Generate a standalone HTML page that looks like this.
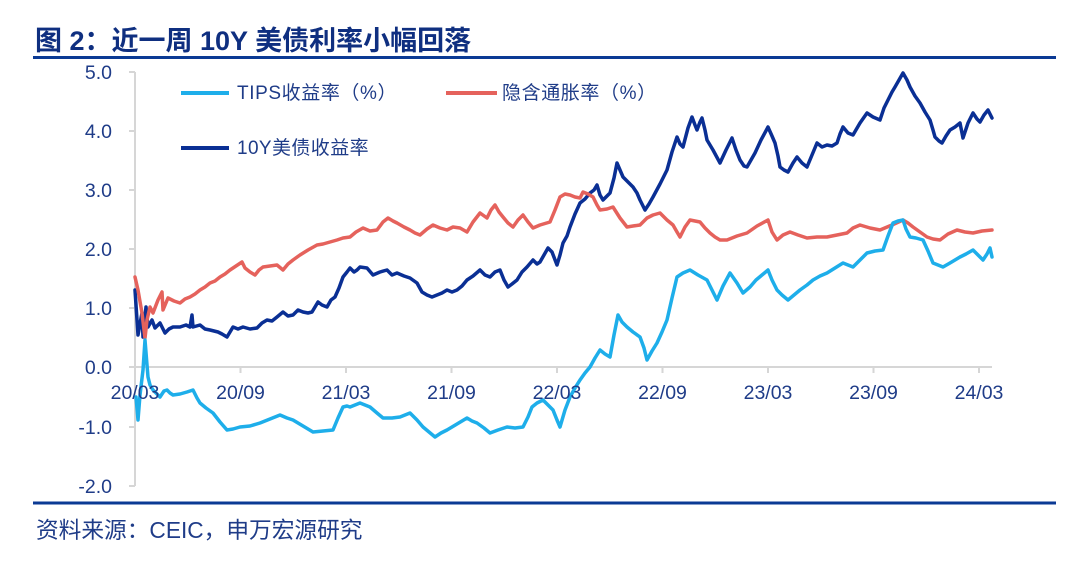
<!DOCTYPE html>
<html>
<head>
<meta charset="utf-8">
<style>
  html,body{margin:0;padding:0;background:#ffffff;}
  body{width:1080px;height:581px;overflow:hidden;}
  svg{display:block;}
  text{font-family:"Liberation Sans","Noto Sans CJK SC",sans-serif;}
</style>
</head>
<body>
<svg width="1080" height="581" viewBox="0 0 1080 581" xmlns="http://www.w3.org/2000/svg">
  <rect width="1080" height="581" fill="#ffffff"/>
  <!-- Title -->
  <text x="35" y="50" font-size="27" font-weight="bold" fill="#0f2f80">图 2：近一周 10Y 美债利率小幅回落</text>
  <line x1="33" y1="57.5" x2="1056" y2="57.5" stroke="#0b3a94" stroke-width="3"/>

  <!-- Y axis -->
  <line x1="135" y1="72" x2="135" y2="486" stroke="#d6d6d6" stroke-width="2"/>
  <g stroke="#d6d6d6" stroke-width="2">
    <line x1="129" y1="72" x2="135" y2="72"/>
    <line x1="129" y1="131" x2="135" y2="131"/>
    <line x1="129" y1="190" x2="135" y2="190"/>
    <line x1="129" y1="249" x2="135" y2="249"/>
    <line x1="129" y1="308" x2="135" y2="308"/>
    <line x1="129" y1="367" x2="135" y2="367"/>
    <line x1="129" y1="427" x2="135" y2="427"/>
    <line x1="129" y1="486" x2="135" y2="486"/>
  </g>
  <g font-size="19.5" fill="#1f3c88" text-anchor="end">
    <text x="112" y="79">5.0</text>
    <text x="112" y="138">4.0</text>
    <text x="112" y="197">3.0</text>
    <text x="112" y="256">2.0</text>
    <text x="112" y="315">1.0</text>
    <text x="112" y="374">0.0</text>
    <text x="112" y="434">-1.0</text>
    <text x="112" y="493">-2.0</text>
  </g>

  <!-- X axis -->
  <line x1="135" y1="367" x2="992" y2="367" stroke="#d6d6d6" stroke-width="2"/>
  <g stroke="#d6d6d6" stroke-width="2">
    <line x1="135" y1="367" x2="135" y2="373"/>
    <line x1="240.5" y1="367" x2="240.5" y2="373"/>
    <line x1="346" y1="367" x2="346" y2="373"/>
    <line x1="451.5" y1="367" x2="451.5" y2="373"/>
    <line x1="557" y1="367" x2="557" y2="373"/>
    <line x1="662.5" y1="367" x2="662.5" y2="373"/>
    <line x1="768" y1="367" x2="768" y2="373"/>
    <line x1="873.5" y1="367" x2="873.5" y2="373"/>
    <line x1="979" y1="367" x2="979" y2="373"/>
  </g>

  <!-- Series -->
  <polyline fill="none" stroke="#0a2f94" stroke-width="3.5" stroke-linejoin="round" stroke-linecap="round"
    points="135,290 138,335 142,313 143,337 146,307 148,327 152,320 155,328 160,323 165,333 169,329 173,327 180,327 186,325 190,327 192,315 193,327 200,325 205,329 210,330 218,332 222,334 227,337 233,327 238,329 243,327 250,329 257,328 262,323 267,320 272,321 277,317 283,312 288,316 293,315 298,310 303,312 308,313 312,312 318,302 322,305 327,307 331,300 335,297 339,288 343,277 347,272 350,268 354,272 357,270 360,267 367,268 373,275 380,272 387,270 392,275 397,273 404,276 410,278 417,283 422,292 427,295 432,297 437,295 442,293 447,290 452,292 457,290 462,286 467,280 473,276 480,270 485,275 490,277 495,272 500,270 504,280 508,287 512,284 517,280 522,272 527,267 533,260 537,264 540,262 544,255 548,248 552,252 557,265 560,255 563,243 567,236 570,227 575,214 580,203 585,199 590,193 594,190 597,185 600,195 603,200 607,196 610,193 614,178 617,163 620,170 623,177 628,182 633,187 637,193 640,200 645,210 649,204 653,197 660,184 667,170 672,152 677,137 680,144 683,147 688,128 692,117 695,125 697,130 700,122 702,118 705,130 707,140 713,150 720,163 726,150 732,138 736,150 740,160 744,166 747,167 751,160 755,153 761,140 768,127 772,136 775,143 778,156 780,167 784,170 788,172 793,163 797,157 802,163 807,167 812,155 817,143 822,147 827,145 832,146 837,143 840,134 843,127 848,133 853,135 860,123 867,113 873,117 880,120 884,108 888,100 892,92 895,87 899,80 903,73 907,80 910,87 915,96 920,103 925,112 930,120 933,130 935,137 939,141 942,143 946,136 950,130 955,127 960,123 963,138 968,123 973,113 977,119 980,122 984,115 988,110 990,114 992,118"/>

  <polyline fill="none" stroke="#e5625c" stroke-width="3.5" stroke-linejoin="round" stroke-linecap="round"
    points="135,277 138,290 142,313 145,338 147,320 150,307 153,313 158,300 162,292 163,310 168,298 174,301 180,303 185,299 190,297 195,294 200,290 205,287 210,283 215,281 220,277 225,274 230,270 236,266 242,262 245,268 250,272 255,275 259,270 263,267 270,266 277,265 283,270 288,264 293,260 300,255 308,250 317,245 323,244 330,242 337,240 343,238 350,237 356,232 363,228 370,231 377,230 383,222 388,218 393,221 397,223 404,227 410,230 415,233 420,235 427,229 433,225 440,228 447,230 453,227 460,228 467,232 473,222 480,213 487,218 491,210 495,205 499,212 503,217 508,223 513,227 518,220 523,215 528,222 533,228 540,225 550,222 555,210 560,197 565,194 570,195 575,197 580,198 583,192 588,194 593,197 597,205 600,210 607,209 613,207 620,218 627,227 633,226 640,225 647,218 653,215 660,213 667,220 673,225 677,232 680,237 685,227 690,220 695,221 700,222 705,228 710,233 715,237 720,240 727,240 737,236 747,233 757,226 768,220 772,232 777,240 783,235 790,232 798,235 807,238 817,237 827,237 837,235 847,233 853,228 860,225 870,228 880,230 892,225 903,220 908,223 913,227 920,232 927,237 933,239 940,240 948,234 957,230 965,232 973,233 982,231 992,230"/>

  <polyline fill="none" stroke="#1eaeea" stroke-width="3.5" stroke-linejoin="round" stroke-linecap="round"
    points="136,397 138,420 140,395 143,370 145,340 147,365 148,377 150,385 153,390 157,394 160,397 164,391 167,390 170,393 173,395 180,394 187,392 190,391 193,390 197,398 200,403 206,408 213,413 220,422 227,430 233,429 240,427 250,426 260,423 270,419 280,415 287,418 293,420 303,426 313,432 323,431 333,430 338,418 343,407 347,406 350,407 355,405 360,403 365,405 370,407 377,413 383,418 392,418 400,417 405,415 410,413 417,420 423,427 429,432 435,437 441,433 447,430 457,424 467,418 472,421 477,423 484,428 490,433 498,430 507,427 515,428 523,427 528,417 532,407 537,403 543,400 548,405 553,410 557,420 560,427 565,410 570,397 575,388 580,380 585,373 590,367 595,358 600,350 605,354 610,357 614,335 618,315 622,322 627,327 633,332 640,337 644,348 647,360 652,351 657,343 662,332 667,320 672,298 677,277 683,273 690,270 698,275 707,280 712,290 717,300 723,286 730,273 737,283 743,293 750,287 756,280 762,275 768,270 772,280 777,290 782,295 788,300 794,295 800,290 807,285 813,280 820,276 827,273 835,268 843,263 848,265 853,267 860,260 867,253 875,251 883,250 888,236 893,223 898,221 903,220 906,229 910,237 916,238 923,240 928,251 933,263 938,265 943,267 950,263 960,257 966,254 973,250 978,255 983,260 987,254 990,248 992,257"/>

  <!-- X labels -->
  <g font-size="19.5" fill="#1f3c88" text-anchor="middle">
    <text x="135" y="399">20/03</text>
    <text x="240.5" y="399">20/09</text>
    <text x="346" y="399">21/03</text>
    <text x="451.5" y="399">21/09</text>
    <text x="557" y="399">22/03</text>
    <text x="662.5" y="399">22/09</text>
    <text x="768" y="399">23/03</text>
    <text x="873.5" y="399">23/09</text>
    <text x="979" y="399">24/03</text>
  </g>

  <!-- Legend -->
  <line x1="181" y1="93" x2="229" y2="93" stroke="#1eaeea" stroke-width="4"/>
  <text x="237" y="99" font-size="19" letter-spacing="0.6" fill="#1f3c88">TIPS收益率（%）</text>
  <line x1="446" y1="93" x2="497" y2="93" stroke="#e5625c" stroke-width="4"/>
  <text x="502" y="99" font-size="19" letter-spacing="0.6" fill="#1f3c88">隐含通胀率（%）</text>
  <line x1="181" y1="148" x2="229" y2="148" stroke="#0a2f94" stroke-width="4"/>
  <text x="237" y="154" font-size="19" letter-spacing="0.4" fill="#1f3c88">10Y美债收益率</text>

  <!-- Bottom rule and source -->
  <line x1="33" y1="503" x2="1056" y2="503" stroke="#0b3a94" stroke-width="3"/>
  <text x="36" y="538" font-size="22.7" fill="#1f3c88">资料来源：CEIC，申万宏源研究</text>
</svg>
</body>
</html>
